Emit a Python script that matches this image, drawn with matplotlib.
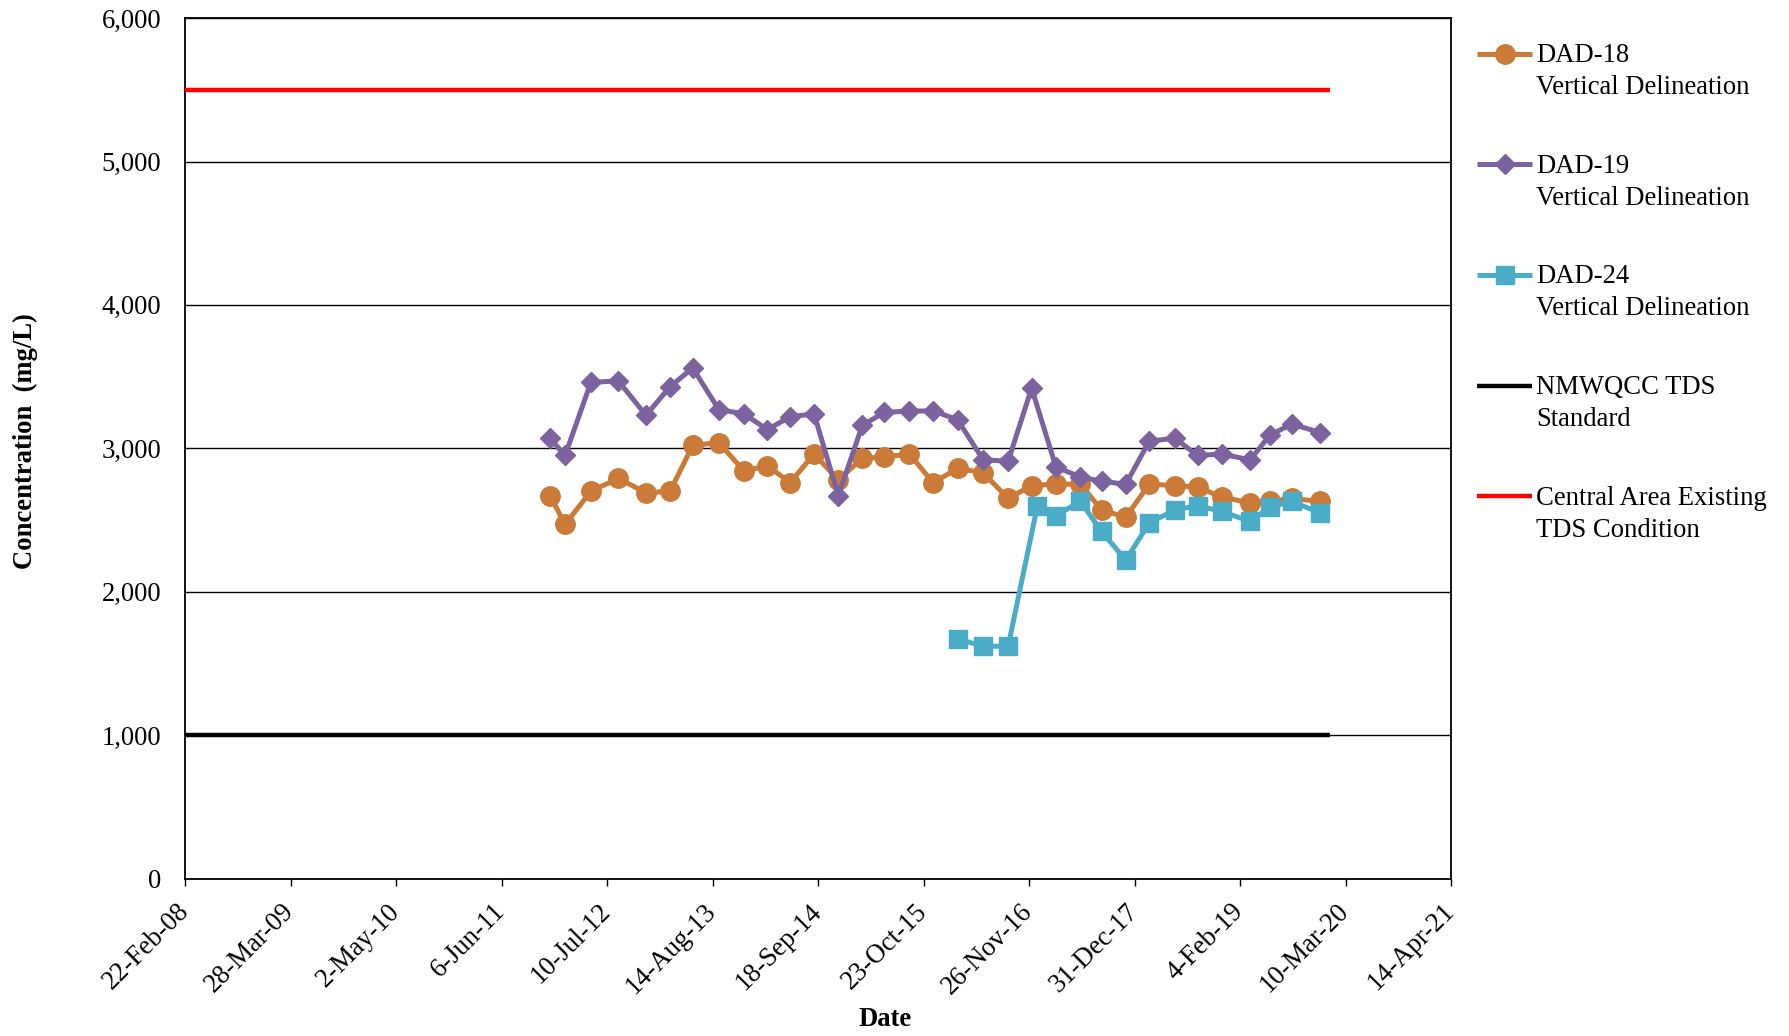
import matplotlib
matplotlib.use("Agg")
import matplotlib.pyplot as plt
import matplotlib.dates as mdates
from matplotlib.lines import Line2D
from matplotlib.ticker import FixedLocator, FuncFormatter
import pandas as pd

plt.rcParams["font.family"] = ["Liberation Serif", "DejaVu Serif"]

# Sampling dates shared by DAD-18 and DAD-19
dates_18_19 = [
    "2011-12-07", "2012-02-02", "2012-05-10", "2012-08-22", "2012-12-05",
    "2013-03-06", "2013-05-31", "2013-09-07", "2013-12-12", "2014-03-10",
    "2014-06-04", "2014-09-03", "2014-12-04", "2015-03-05", "2015-05-27",
    "2015-08-30", "2015-11-29", "2016-02-29", "2016-06-05", "2016-09-08",
    "2016-12-06", "2017-03-08", "2017-06-09", "2017-08-28", "2017-11-28",
    "2018-02-25", "2018-06-02", "2018-08-27", "2018-11-26", "2019-03-14",
    "2019-05-28", "2019-08-19", "2019-12-04",
]
dad18 = [2670, 2470, 2700, 2790, 2690, 2700, 3020, 3040, 2840, 2880,
         2760, 2960, 2780, 2930, 2940, 2960, 2760, 2860, 2830, 2650,
         2740, 2750, 2750, 2570, 2520, 2750, 2740, 2730, 2660, 2620,
         2630, 2650, 2630]
dad19 = [3070, 2950, 3460, 3470, 3230, 3430, 3560, 3270, 3240, 3130,
         3220, 3240, 2670, 3160, 3250, 3260, 3260, 3200, 2920, 2910,
         3420, 2870, 2800, 2770, 2750, 3050, 3070, 2950, 2960, 2920,
         3090, 3170, 3110]

dates_24 = [
    "2016-02-29", "2016-06-05", "2016-09-08", "2016-12-28", "2017-03-08",
    "2017-06-09", "2017-08-28", "2017-11-28", "2018-02-25", "2018-06-02",
    "2018-08-27", "2018-11-26", "2019-03-14", "2019-05-28", "2019-08-19",
    "2019-12-04",
]
dad24 = [1670, 1620, 1620, 2600, 2530, 2630, 2420, 2220, 2480, 2570,
         2600, 2560, 2490, 2590, 2630, 2550]

# Reference levels (mg/L) and the span they are drawn over
standard_dates = ["2008-02-22", "2020-01-10"]
nmwqcc_standard = [1000, 1000]
central_area = [5500, 5500]

labels = [
    ("DAD-18", "Vertical Delineation"),
    ("DAD-19", "Vertical Delineation"),
    ("DAD-24", "Vertical Delineation"),
    ("NMWQCC TDS", "Standard"),
    ("Central Area Existing", "TDS Condition"),
]

C18, C19, C24 = "#CB7A37", "#7D62A0", "#4AACC6"
FS = 19.2

W, H = 1789, 1036
fig = plt.figure(figsize=(W / 100, H / 100), dpi=100)
ax = fig.add_axes([185 / W, 1 - 878.5 / H, (1451 - 185) / W, (878.5 - 18.1) / H])

d1819 = pd.to_datetime(dates_18_19)
d24 = pd.to_datetime(dates_24)
dstd = pd.to_datetime(standard_dates)

styles = [
    dict(color=C18, lw=3.6, marker="o", ms=14, mec=C18, mfc=C18),
    dict(color=C19, lw=3.6, marker="D", ms=10.5, mec=C19, mfc=C19),
    dict(color=C24, lw=3.6, marker="s", ms=13.5, mec=C24, mfc=C24),
    dict(color="black", lw=3.2),
    dict(color="#FF0000", lw=3.2),
]

ax.plot(d1819, dad18, zorder=3, **styles[0])
ax.plot(d1819, dad19, zorder=4, **styles[1])
ax.plot(d24, dad24, zorder=5, **styles[2])
ax.plot(dstd, nmwqcc_standard, zorder=6, solid_capstyle="butt", **styles[3])
ax.plot(dstd, central_area, zorder=6, solid_capstyle="butt", **styles[4])

# Axes ranges and ticks
x0 = pd.Timestamp("2008-02-22")
xticks = pd.date_range(x0, periods=13, freq="400D")
ax.set_xlim(mdates.date2num(xticks[0]), mdates.date2num(xticks[-1]))
ax.set_ylim(0, 6000)
ax.xaxis.set_major_locator(FixedLocator(mdates.date2num(xticks)))
ax.xaxis.set_major_formatter(FuncFormatter(
    lambda v, p: (lambda d: f"{d.day}-{d.strftime('%b-%y')}")(mdates.num2date(v))))
ax.yaxis.set_major_locator(FixedLocator(range(0, 6001, 1000)))
ax.yaxis.set_major_formatter(FuncFormatter(lambda v, p: f"{int(v):,}"))

ax.grid(axis="y", color="black", lw=1.0, zorder=1)
ax.set_axisbelow(True)
for s in ax.spines.values():
    s.set_linewidth(1.3)
    s.set_color("black")

ax.tick_params(axis="y", length=0, pad=17, labelsize=FS)
ax.tick_params(axis="x", direction="out", length=5, width=1.0, pad=16, labelsize=FS)
for lbl in ax.get_xticklabels():
    lbl.set_rotation(45)
    lbl.set_ha("right")
    lbl.set_va("center")
    lbl.set_rotation_mode("anchor")

fig.text(25 / W, 1 - 441 / H, "Concentration  (mg/L)", rotation=90,
         ha="center", va="center", fontsize=FS, fontweight="bold")
fig.text(885 / W, 1 - 1020 / H, "Date", ha="center", va="center",
         fontsize=FS, fontweight="bold")

# Legend: handle beside the first line of each two-line label
hx0, hx1, tx = 1477, 1532, 1536
for i, ((l1, l2), st) in enumerate(zip(labels, styles)):
    yc = 53.5 + i * 110.7
    fy = 1 - yc / H
    fig.add_artist(Line2D([hx0 / W, (hx0 + hx1) / 2 / W, hx1 / W], [fy, fy, fy],
                          transform=fig.transFigure, markevery=[1],
                          solid_capstyle="butt", **st))
    fig.text(tx / W, 1 - (yc + 8.5) / H, l1, ha="left", va="baseline", fontsize=FS)
    fig.text(tx / W, 1 - (yc + 40.5) / H, l2, ha="left", va="baseline", fontsize=FS)

fig.savefig("out.png", dpi=100, facecolor="white")
